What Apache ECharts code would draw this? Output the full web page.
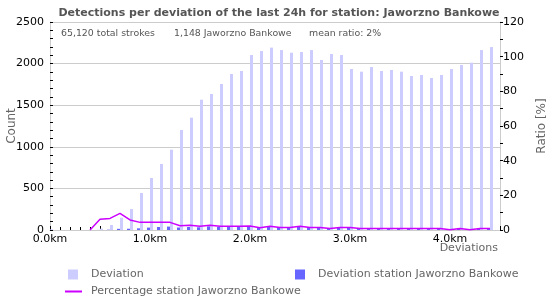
<!DOCTYPE html>
<html>
<head>
<meta charset="utf-8">
<script src="https://cdn.jsdelivr.net/npm/echarts@6/dist/echarts.min.js"></script>
<style>
  html, body { margin: 0; padding: 0; background: #fff; }
  #chart { width: 550px; height: 300px; }
</style>
</head>
<body>
<div id="chart"></div>
<script>
// deviation in km (bar positions)
let distances = [0.0, 0.1, 0.2, 0.3, 0.4, 0.5, 0.6, 0.7, 0.8, 0.9,
                 1.0, 1.1, 1.2, 1.3, 1.4, 1.5, 1.6, 1.7, 1.8, 1.9,
                 2.0, 2.1, 2.2, 2.3, 2.4, 2.5, 2.6, 2.7, 2.8, 2.9,
                 3.0, 3.1, 3.2, 3.3, 3.4, 3.5, 3.6, 3.7, 3.8, 3.9,
                 4.0, 4.1, 4.2, 4.3, 4.4];
let deviation = [8, 0, 0, 0, 0, 16, 60, 148, 252, 445,
                 625, 793, 965, 1202, 1350, 1566, 1635, 1755, 1875, 1911,
                 2103, 2151, 2192, 2163, 2131, 2139, 2163, 2043, 2115, 2103,
                 1935, 1903, 1959, 1911, 1923, 1903, 1851, 1863, 1827, 1863,
                 1935, 1983, 2011, 2163, 2199];
let stationDeviation = [0, 0, 0, 0, 0, 1, 4, 14, 15, 20,
                        29, 36, 41, 30, 36, 33, 44, 37, 39, 40,
                        48, 28, 46, 32, 32, 45, 32, 31, 17, 32,
                        29, 15, 16, 15, 15, 15, 15, 15, 15, 15,
                        4, 16, 4, 17, 18];
let stationRatio = [null, null, null, null, 0, 6.2, 6.7, 9.6, 5.8, 4.4,
                    4.4, 4.4, 4.4, 2.5, 2.7, 2.1, 2.7, 2.1, 2.1, 2.1,
                    2.3, 1.3, 2.1, 1.5, 1.5, 2.1, 1.5, 1.5, 0.8, 1.5,
                    1.5, 0.8, 0.8, 0.8, 0.8, 0.8, 0.8, 0.8, 0.8, 0.8,
                    0.2, 0.8, 0.2, 0.8, 0.8];
let countTicks = [0, 500, 1000, 1500, 2000, 2500];
let ratioTicks = [0, 20, 40, 60, 80, 100, 120];

let stationName = 'Jaworzno Bankowe';
let summary = ['65,120 total strokes', '1,148 Jaworzno Bankowe', 'mean ratio: 2%'];

let font = 'DejaVu Sans';

function pairs(values) {
    return distances.map((d, i) => [d, values[i]]);
}

window.onload = function() {
    let myChart = echarts.init(document.getElementById('chart'));

    let legendText = { color: '#666', fontSize: 11, fontFamily: font, padding: [0, 0, 0, 8] };
    let noteFont = '9.4px "DejaVu Sans"';

    let option = {
        animation: false,
        textStyle: { fontFamily: font },
        title: {
            text: 'Detections per deviation of the last 24h for station: ' + stationName,
            left: 274,
            top: 3,
            textAlign: 'center',
            textStyle: { color: '#555', fontSize: 11, fontWeight: 'bold', fontFamily: font }
        },
        legend: [
            {
                data: [{ name: 'Deviation', icon: 'rect' }],
                left: 63, top: 264, itemWidth: 10, itemHeight: 10,
                selectedMode: false, textStyle: legendText
            },
            {
                data: [{ name: 'Deviation station ' + stationName, icon: 'rect' }],
                left: 290, top: 264, itemWidth: 10, itemHeight: 10,
                selectedMode: false, textStyle: legendText
            },
            {
                data: [{ name: 'Percentage station ' + stationName, icon: 'rect' }],
                left: 60, top: 281, itemWidth: 17, itemHeight: 2,
                selectedMode: false,
                textStyle: { color: '#666', fontSize: 11, fontFamily: font, padding: [0, 0, 0, 4] }
            }
        ],
        graphic: [
            { type: 'text', left: 61, top: 29, style: { text: summary[0], fill: '#555', font: noteFont } },
            { type: 'text', left: 174, top: 29, style: { text: summary[1], fill: '#555', font: noteFont } },
            { type: 'text', left: 309, top: 29, style: { text: summary[2], fill: '#555', font: noteFont } },
            // x axis title, bottom right under the plot
            { type: 'text', right: 52, top: 243, style: { text: 'Deviations', fill: '#666', font: '11px "DejaVu Sans"' } }
        ],
        grid: { left: 50, right: 50, top: 22, bottom: 70, containLabel: false, outerBoundsMode: 'none' },
        xAxis: {
            type: 'value',
            min: 0, max: 4.5, interval: 0.5,
            axisLine: { show: true, lineStyle: { color: '#ccc' } },
            axisTick: { show: true, inside: true, length: 4, lineStyle: { color: '#000' } },
            minorTick: { show: true, splitNumber: 5, length: 3, lineStyle: { color: '#000' } },
            splitLine: { show: false },
            axisLabel: {
                color: '#000', fontSize: 11, margin: 4,
                formatter: v => (Math.abs(v - Math.round(v)) < 1e-6 ? v.toFixed(1) + 'km' : '')
            }
        },
        yAxis: [
            {
                type: 'value',
                min: countTicks[0], max: countTicks[countTicks.length - 1], interval: 500,
                name: 'Count',
                nameLocation: 'middle',
                nameGap: 32,
                nameMoveOverlap: false,
                nameTextStyle: { color: '#666', fontSize: 12 },
                axisLine: { show: true, lineStyle: { color: '#ccc' } },
                axisTick: { show: true, inside: true, length: 3, lineStyle: { color: '#000' } },
                minorTick: { show: true, splitNumber: 5, length: 3, lineStyle: { color: '#000' } },
                splitLine: { show: true, lineStyle: { color: '#ccc' } },
                axisLabel: { color: '#000', fontSize: 11, margin: 6, formatter: v => String(v) }
            },
            {
                type: 'value',
                min: ratioTicks[0], max: ratioTicks[ratioTicks.length - 1], interval: 20,
                name: 'Ratio [%]',
                nameLocation: 'middle',
                nameGap: 36,
                nameMoveOverlap: false,
                nameTextStyle: { color: '#666', fontSize: 12 },
                axisLine: { show: true, lineStyle: { color: '#ccc' } },
                axisTick: { show: true, inside: false, length: 3, lineStyle: { color: '#000' } },
                minorTick: { show: true, splitNumber: 2, length: 3, lineStyle: { color: '#000' } },
                splitLine: { show: false },
                axisLabel: { color: '#000', fontSize: 11, margin: 3, formatter: v => String(v) }
            }
        ],
        series: [
            {
                name: 'Deviation station ' + stationName,
                type: 'bar',
                data: pairs(stationDeviation),
                barWidth: 3,
                barGap: '0%',
                itemStyle: { color: '#6666ff' }
            },
            {
                name: 'Deviation',
                type: 'bar',
                data: pairs(deviation),
                barWidth: 3,
                barGap: '0%',
                itemStyle: { color: '#ccccff' }
            },
            {
                name: 'Percentage station ' + stationName,
                type: 'line',
                yAxisIndex: 1,
                data: pairs(stationRatio),
                showSymbol: false,
                symbol: 'none',
                lineStyle: { color: '#cc00ff', width: 1.5 },
                itemStyle: { color: '#cc00ff' }
            }
        ]
    };
    myChart.setOption(option);
};
</script>
</body>
</html>
